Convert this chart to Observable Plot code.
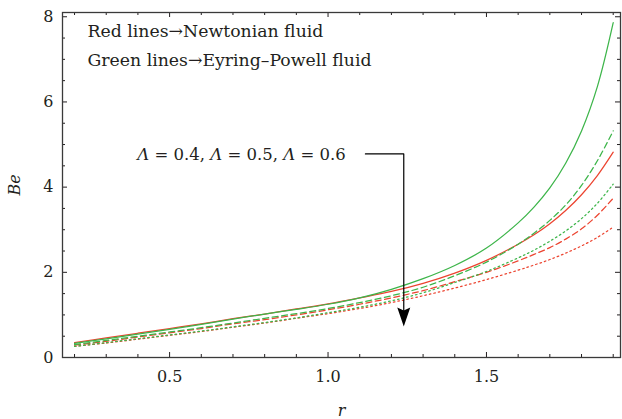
<!DOCTYPE html>
<html>
<head>
<meta charset="utf-8">
<script src="https://cdn.jsdelivr.net/npm/d3@7"></script>
<script src="https://cdn.jsdelivr.net/npm/@observablehq/plot@0.6"></script>
<style>
  html, body { margin: 0; padding: 0; background: #fff; }
  g[aria-label="x-axis label"] text, g[aria-label="y-axis label"] text { font-style: italic; }
</style>
</head>
<body>
<div id="chart"></div>
<script>
// r values (shared by all curves)
const r = [0.2, 0.3, 0.4, 0.5, 0.6, 0.7, 0.8, 0.9, 1.0, 1.1, 1.2, 1.3, 1.4, 1.5, 1.6, 1.65, 1.7, 1.75, 1.8, 1.85, 1.9];

// Eyring–Powell fluid (green), Λ = 0.4 / 0.5 / 0.6
const greenSolid  = [0.33, 0.44, 0.55, 0.66, 0.78, 0.90, 1.02, 1.13, 1.25, 1.40, 1.60, 1.85, 2.16, 2.57, 3.16, 3.53, 3.98, 4.56, 5.32, 6.36, 7.86];
const greenDashed = [0.30, 0.40, 0.50, 0.60, 0.70, 0.81, 0.92, 1.03, 1.15, 1.29, 1.45, 1.65, 1.92, 2.24, 2.66, 2.92, 3.22, 3.58, 4.04, 4.62, 5.32];
const greenDotted = [0.26, 0.35, 0.44, 0.53, 0.62, 0.72, 0.82, 0.93, 1.05, 1.18, 1.33, 1.52, 1.76, 2.02, 2.34, 2.52, 2.73, 2.97, 3.26, 3.62, 4.07];

// Newtonian fluid (red), Λ = 0.4 / 0.5 / 0.6
const redSolid  = [0.35, 0.46, 0.57, 0.68, 0.79, 0.91, 1.02, 1.14, 1.26, 1.40, 1.55, 1.74, 1.98, 2.28, 2.66, 2.88, 3.14, 3.45, 3.82, 4.27, 4.82];
const redDashed = [0.29, 0.38, 0.48, 0.58, 0.68, 0.79, 0.89, 1.00, 1.12, 1.25, 1.40, 1.57, 1.78, 2.00, 2.27, 2.42, 2.58, 2.78, 3.02, 3.34, 3.74];
const redDotted = [0.26, 0.34, 0.43, 0.52, 0.61, 0.71, 0.81, 0.92, 1.03, 1.15, 1.29, 1.45, 1.63, 1.83, 2.05, 2.17, 2.30, 2.45, 2.62, 2.82, 3.06];

// Tick values
const xTicks = [0.5, 1.0, 1.5];
const xMinorTicks = [0.2, 0.3, 0.4, 0.6, 0.7, 0.8, 0.9, 1.1, 1.2, 1.3, 1.4, 1.6, 1.7, 1.8, 1.9];
const yTicks = [0, 2, 4, 6, 8];
const yMinorTicks = [0.5, 1, 1.5, 2.5, 3, 3.5, 4.5, 5, 5.5, 6.5, 7, 7.5];

// Texts
const legendLines = ["Red lines\u2192Newtonian fluid", "Green lines\u2192Eyring\u2013Powell fluid"];
const annotation = ["\u039B = 0.4, \u039B = 0.5, \u039B = 0.6"];
// annotation anchor & arrow path, in data units (r, Be)
const annotationPos = [{r: 0.398, Be: 4.76}];
const arrowPath = [{r: 1.118, Be: 4.78}, {r: 1.239, Be: 4.78}, {r: 1.239, Be: 1.1}];
const arrowTip = [{r: 1.239, Be: 0.73}];

const toRows = (ys) => r.map((x, i) => ({r: x, Be: ys[i]}));

const GREEN = "#3db54a";
const RED = "#ec4430";
const INK = "#231f20";

const W = 622, H = 419, mL = 62, mR = 2, mT = 12, mB = 62;
const plotW = W - mL - mR, plotH = H - mT - mB;
const MAJ = 5, MIN = 3;

const arrowHead = {
  draw(ctx) {
    ctx.moveTo(0, 0);
    ctx.lineTo(-6.5, -19);
    ctx.lineTo(0, -16);
    ctx.lineTo(6.5, -19);
    ctx.closePath();
  }
};

const curve = (ys, color, dash) => Plot.line(toRows(ys), {
  x: "r", y: "Be", stroke: color, strokeWidth: 1.25,
  strokeDasharray: dash, curve: "catmull-rom"
});

const textOpts = {textAnchor: "start", lineAnchor: "middle", fill: INK};

const chart = Plot.plot({
  width: W, height: H,
  marginLeft: mL, marginRight: mR, marginTop: mT, marginBottom: mB,
  style: {fontFamily: "'DejaVu Serif', serif", fontSize: "16px", color: INK, background: "#fff"},
  x: {domain: [0.162, 1.923]},
  y: {domain: [0, 8.1]},
  marks: [
    // axes (labels only; ticks drawn inward below)
    Plot.axisX({ticks: xTicks, tickSize: 0, tickPadding: 13, tickFormat: d => d.toFixed(1),
      label: "r", labelAnchor: "center", labelOffset: 58, labelArrow: "none"}),
    Plot.axisY({ticks: yTicks, tickSize: 0, tickPadding: 9, tickFormat: d => String(d),
      label: "Be", labelAnchor: "center", labelOffset: 54, labelArrow: "none"}),
    // inward ticks on all four sides
    Plot.tickX(xTicks, {x: d => d, insetTop: plotH - MAJ, stroke: INK}),
    Plot.tickX(xMinorTicks, {x: d => d, insetTop: plotH - MIN, stroke: INK}),
    Plot.tickX(xTicks, {x: d => d, insetBottom: plotH - MAJ, stroke: INK}),
    Plot.tickX(xMinorTicks, {x: d => d, insetBottom: plotH - MIN, stroke: INK}),
    Plot.tickY(yTicks, {y: d => d, insetRight: plotW - MAJ, stroke: INK}),
    Plot.tickY(yMinorTicks, {y: d => d, insetRight: plotW - MIN, stroke: INK}),
    Plot.tickY(yTicks, {y: d => d, insetLeft: plotW - MAJ, stroke: INK}),
    Plot.tickY(yMinorTicks, {y: d => d, insetLeft: plotW - MIN, stroke: INK}),
    // curves
    curve(redDotted, RED, "1.6,3"),
    curve(redDashed, RED, "6,3.5"),
    curve(redSolid, RED, null),
    curve(greenDotted, GREEN, "1.6,3"),
    curve(greenDashed, GREEN, "6,3.5"),
    curve(greenSolid, GREEN, null),
    // legend text
    Plot.text([legendLines[0]], {frameAnchor: "top-left", dx: 25, dy: 19, text: d => d, fontSize: 17.3, ...textOpts}),
    Plot.text([legendLines[1]], {frameAnchor: "top-left", dx: 25, dy: 48, text: d => d, fontSize: 17.3, ...textOpts}),
    // annotation + arrow
    Plot.text(annotationPos, {x: "r", y: "Be", text: () => annotation[0], fontSize: 16.5, ...textOpts}),
    Plot.line(arrowPath, {x: "r", y: "Be", stroke: "#000", strokeWidth: 1.2}),
    Plot.dot(arrowTip, {x: "r", y: "Be", symbol: arrowHead, fill: "#000", stroke: "none", r: 5}),
    // frame
    Plot.frame({stroke: "#3a3a3a", strokeWidth: 1.3})
  ]
});

document.getElementById("chart").appendChild(chart);

// italicise Λ in the annotation
chart.querySelectorAll("text").forEach(t => {
  if (t.textContent.includes("\u039B")) {
    const parts = t.textContent.split("\u039B");
    t.textContent = "";
    parts.forEach((p, i) => {
      if (i > 0) {
        const s = document.createElementNS("http://www.w3.org/2000/svg", "tspan");
        s.setAttribute("font-style", "italic");
        s.textContent = "\u039B";
        t.appendChild(s);
      }
      if (p) {
        const s = document.createElementNS("http://www.w3.org/2000/svg", "tspan");
        s.textContent = p;
        t.appendChild(s);
      }
    });
  }
});
</script>
</body>
</html>
